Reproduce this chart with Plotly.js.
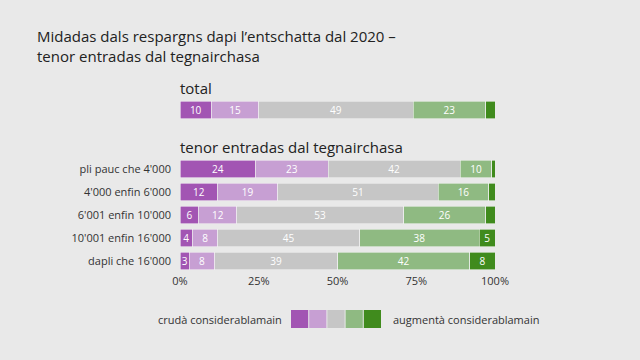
<!DOCTYPE html>
<html><head><meta charset="utf-8">
<script src="https://cdn.plot.ly/plotly-3.0.1.min.js"></script>
<style>html,body{margin:0;padding:0;background:#e9e9e9}</style>
</head><body><div id="chart" style="width:640px;height:360px"></div>
<script>
const rowCategories = ["pli pauc che 4'000", "4'000 enfin 6'000", "6'001 enfin 10'000", "10'001 enfin 16'000", "dapli che 16'000"];
const totalCategory = ["total"];
const seriesNames = ["crudà considerablamain", "crudà", "nagina midada", "augmentà", "augmentà considerablamain"];
const colors = ["#a255b3", "#c79fd3", "#c6c6c6", "#8fba82", "#408b1d"];
// values per series, rows
const s1 = [24, 12, 6, 4, 3];
const s2 = [23, 19, 12, 8, 8];
const s3 = [42, 51, 53, 45, 39];
const s4 = [10, 16, 26, 38, 42];
const s5 = [1, 2, 3, 5, 8];
// total
const t1 = [10], t2 = [15], t3 = [49], t4 = [23], t5 = [3];
const minLabel = [3, 3, 3, 3, 5];
const xTickVals = [0, 25, 50, 75, 100];
const xTickText = ["0%", "25%", "50%", "75%", "100%"];

const rowSeries = [s1, s2, s3, s4, s5];
const totSeries = [t1, t2, t3, t4, t5];
const FONT = "Open Sans";
const traces = [];
function mk(vals, i, cats, yax) {
  return {
    type: 'bar', orientation: 'h', x: vals, y: cats, yaxis: yax, xaxis: 'x',
    name: seriesNames[i], marker: {color: colors[i], line: {color: '#f2f2f2', width: 0.6}},
    width: 0.78, text: vals.map(v => v >= minLabel[i] ? String(v) : ''),
    textposition: 'inside', insidetextanchor: 'middle', textangle: 0, constraintext: 'none',
    textfont: {color: '#ffffff', size: 10, family: FONT}, hoverinfo: 'skip', showlegend: false, cliponaxis: false
  };
}
rowSeries.forEach((vals, i) => traces.push(mk(vals, i, rowCategories, 'y')));
totSeries.forEach((vals, i) => traces.push(mk(vals, i, totalCategory, 'y2')));

const shapes = colors.map((c, i) => ({
  type: 'rect', xref: 'paper', yref: 'paper',
  x0: (291 + i * 18.2 - 180) / 315, x1: (291 + i * 18.2 + 17.2 - 180) / 315,
  y0: 1 - 328 / 360, y1: 1 - 310 / 360, fillcolor: c, line: {width: 0}
}));

const layout = {
  width: 640, height: 360,
  paper_bgcolor: '#e9e9e9', plot_bgcolor: '#e9e9e9',
  margin: {l: 180, r: 145, t: 0, b: 0},
  font: {family: FONT, color: '#333333', size: 11},
  barmode: 'stack', bargap: 0.2,
  showlegend: false,
  xaxis: {range: [0, 100], tickvals: xTickVals, ticktext: xTickText, showgrid: false, zeroline: false,
          showline: false, anchor: 'y', ticks: '', tickfont: {size: 11, color: '#333'}, fixedrange: true},
  yaxis: {domain: [1 - 272.5 / 360, 1 - 157.5 / 360], range: [4.5, -0.5], type: 'category',
          categoryarray: rowCategories, showgrid: false, zeroline: false, ticks: '',
          ticklabelstandoff: 8, tickfont: {size: 11, color: '#333'}},
  yaxis2: {domain: [1 - 121.5 / 360, 1 - 98.5 / 360], range: [-0.5, 0.5], type: 'category',
           showgrid: false, zeroline: false, showticklabels: false, anchor: 'x'},
  shapes: shapes,
  annotations: [
    {text: "Midadas dals respargns dapi l’entschatta dal 2020 –<br>tenor entradas dal tegnairchasa",
     xref: 'paper', yref: 'paper', x: (35 - 180) / 315, y: 1 - 24 / 360, xanchor: 'left', yanchor: 'top',
     align: 'left', showarrow: false, font: {size: 15, color: '#222', family: FONT, weight: 500}},
    {text: "total", xref: 'paper', yref: 'paper', x: 0, y: 1 - 76 / 360, xanchor: 'left', yanchor: 'top',
     showarrow: false, font: {size: 15, color: '#222', family: FONT}, xshift: -2},
    {text: "tenor entradas dal tegnairchasa", xref: 'paper', yref: 'paper', x: 0, y: 1 - 134.5 / 360,
     xanchor: 'left', yanchor: 'top', showarrow: false, font: {size: 15, color: '#222', family: FONT}, xshift: -2},
    {text: "crudà considerablamain", xref: 'paper', yref: 'paper', x: (284 - 180) / 315, y: 1 - 319 / 360,
     xanchor: 'right', yanchor: 'middle', showarrow: false, font: {size: 11, color: '#333', family: FONT}},
    {text: "augmentà considerablamain", xref: 'paper', yref: 'paper', x: (391 - 180) / 315, y: 1 - 319 / 360,
     xanchor: 'left', yanchor: 'middle', showarrow: false, font: {size: 11, color: '#333', family: FONT}}
  ]
};
Plotly.newPlot('chart', traces, layout, {displayModeBar: false, staticPlot: true});
</script></body></html>
